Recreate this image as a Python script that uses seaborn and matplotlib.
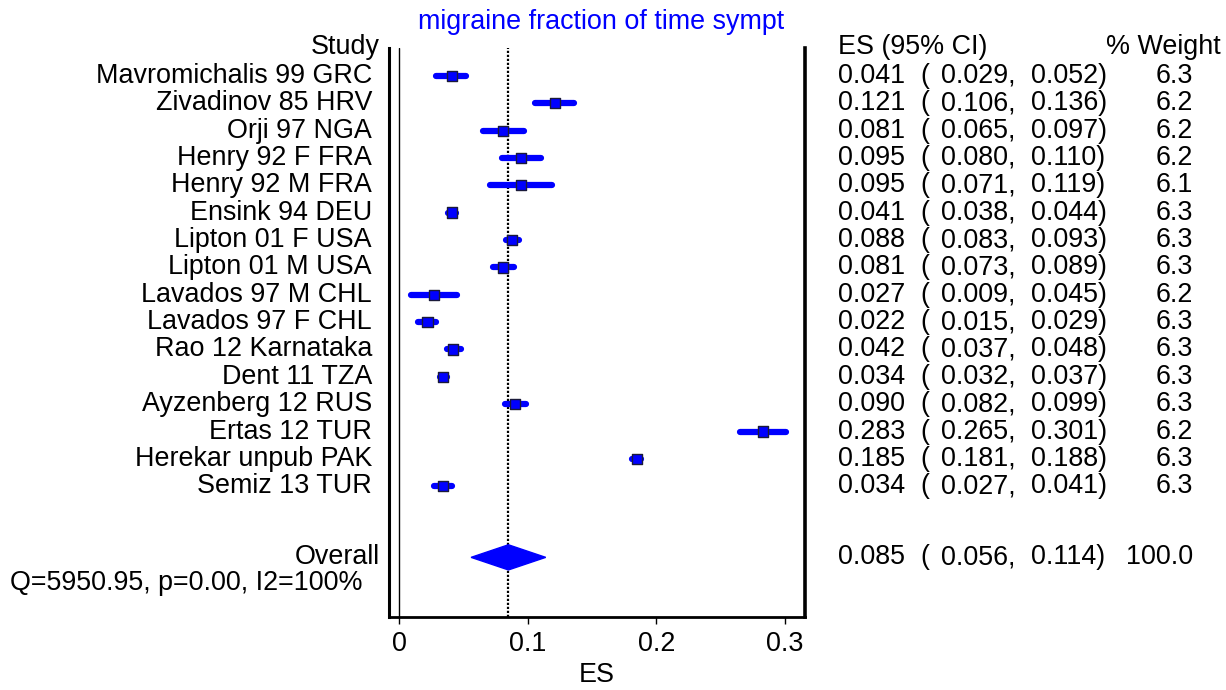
import matplotlib
matplotlib.use("Agg")
import matplotlib.pyplot as plt
import matplotlib.transforms as mtransforms
from matplotlib.patches import Polygon
import seaborn as sns
import pandas as pd

studies = ["Mavromichalis 99 GRC", "Zivadinov 85 HRV", "Orji 97 NGA", "Henry 92 F FRA",
           "Henry 92 M FRA", "Ensink 94 DEU", "Lipton 01 F USA", "Lipton 01 M USA",
           "Lavados 97 M CHL", "Lavados 97 F CHL", "Rao 12 Karnataka", "Dent 11 TZA",
           "Ayzenberg 12 RUS", "Ertas 12 TUR", "Herekar unpub PAK", "Semiz 13 TUR"]
es = [0.041, 0.121, 0.081, 0.095, 0.095, 0.041, 0.088, 0.081,
      0.027, 0.022, 0.042, 0.034, 0.090, 0.283, 0.185, 0.034]
lower = [0.029, 0.106, 0.065, 0.080, 0.071, 0.038, 0.083, 0.073,
         0.009, 0.015, 0.037, 0.032, 0.082, 0.265, 0.181, 0.027]
upper = [0.052, 0.136, 0.097, 0.110, 0.119, 0.044, 0.093, 0.089,
         0.045, 0.029, 0.048, 0.037, 0.099, 0.301, 0.188, 0.041]
weight = [6.3, 6.2, 6.2, 6.2, 6.1, 6.3, 6.3, 6.3,
          6.2, 6.3, 6.3, 6.3, 6.3, 6.2, 6.3, 6.3]

overall_es, overall_lo, overall_hi = 0.085, 0.056, 0.114
overall_label = "Overall"
het_label = "Q=5950.95, p=0.00, I2=100%"
title = "migraine fraction of time sympt"

df = pd.DataFrame({"study": studies, "es": es, "lo": lower, "hi": upper, "w": weight})
df["row"] = range(1, len(df) + 1)
overall_row = 18.6
het_row = 19.55

sns.set_style("white")
plt.rcParams["font.family"] = ["Liberation Sans", "DejaVu Sans"]
plt.rcParams["text.color"] = "black"
plt.rcParams["xtick.color"] = "black"
plt.rcParams["axes.labelcolor"] = "black"
fs = 19.4

fig = plt.figure(figsize=(12.26, 6.9), dpi=100)
ax = fig.add_axes([389 / 1226, 1 - 617 / 690, (805 - 389) / 1226, (617 - 48) / 690])

# confidence intervals
ax.hlines(df["row"], df["lo"], df["hi"], color="#0000ff", lw=4.5, capstyle="round", zorder=2)
# study squares, area by weight
sns.scatterplot(data=df, x="es", y="row", size="w", sizes=(50, 56), marker="s",
                color="#0000ff", edgecolor="#1a1a3a", linewidth=1.0, legend=False, ax=ax, zorder=3)

# pooled estimate diamond
h = 0.46
ax.add_patch(Polygon([(overall_lo, overall_row), (overall_es, overall_row - h),
                      (overall_hi, overall_row), (overall_es, overall_row + h)],
                     closed=True, color="#0000ff", zorder=3))

ax.axvline(0, color="black", lw=1.0, zorder=1)
ax.axvline(overall_es, color="black", lw=1.6, ls=(0, (1, 0.8)), zorder=1)

ax.set_xlim(-0.0078, 0.3155)
ax.set_ylim(20.78, -0.02)
ax.set_xticks([0, 0.1, 0.2, 0.3])
ax.set_xticklabels(["0", "0.1", "0.2", "0.3"], fontsize=fs)
ax.set_yticks([])
ax.set_xlabel("ES", fontsize=fs, labelpad=4)
ax.set_ylabel("")
ax.tick_params(axis="x", direction="out", length=5, width=1, color="black", bottom=True, pad=5)

for side in ["left", "right", "bottom"]:
    ax.spines[side].set_visible(True)
    ax.spines[side].set_color("black")
ax.spines["left"].set_linewidth(2.2)
ax.spines["right"].set_linewidth(2.6)
ax.spines["bottom"].set_linewidth(2.0)
ax.spines["top"].set_visible(False)

trans = mtransforms.blended_transform_factory(fig.transFigure, ax.transData)
lx = 372 / 1226
ax.text(380 / 1226, -0.05, "Study", transform=trans, ha="right", va="center", fontsize=fs, clip_on=False)
for s, r in zip(df["study"], df["row"]):
    ax.text(lx, r, s, transform=trans, ha="right", va="center", fontsize=fs, clip_on=False)
ax.text(380 / 1226, overall_row, overall_label, transform=trans, ha="right", va="center", fontsize=fs, clip_on=False)
ax.text(10 / 1226, het_row, het_label, transform=trans, ha="left", va="center", fontsize=fs, clip_on=False)

# right-hand columns
ax.text(838 / 1226, -0.05, "ES (95% CI)", transform=trans, ha="left", va="center", fontsize=fs, clip_on=False)
ax.text(1221 / 1226, -0.05, "% Weight", transform=trans, ha="right", va="center", fontsize=fs, clip_on=False)

rows_txt = list(zip(df["es"], df["lo"], df["hi"], df["w"], df["row"]))
rows_txt.append((overall_es, overall_lo, overall_hi, 100.0, overall_row))
for e, lo, hi, w, r in rows_txt:
    ax.text(838 / 1226, r, f"{e:.3f}", transform=trans, ha="left", va="center", fontsize=fs, clip_on=False)
    ax.text(920 / 1226, r, "(", transform=trans, ha="left", va="center", fontsize=fs, clip_on=False)
    ax.text(941 / 1226, r, f"{lo:.3f},", transform=trans, ha="left", va="center", fontsize=fs, clip_on=False)
    ax.text(1031 / 1226, r, f"{hi:.3f})", transform=trans, ha="left", va="center", fontsize=fs, clip_on=False)
    ax.text(1193 / 1226, r, f"{w:.1f}", transform=trans, ha="right", va="center", fontsize=fs, clip_on=False)

fig.text(601 / 1226, 1 - 22 / 690, title, color="#0000ff", ha="center", va="center", fontsize=fs)

fig.savefig("out.png", dpi=100)
